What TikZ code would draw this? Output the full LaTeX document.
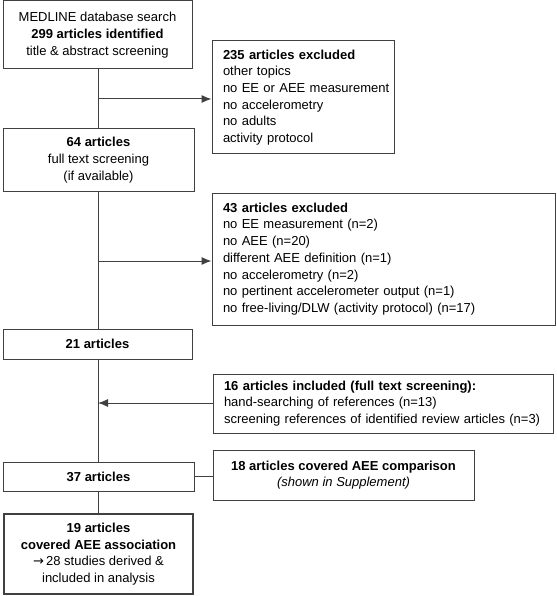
\documentclass[tikz,border=0pt]{standalone}
\usepackage{fontspec}
\setmainfont{Liberation Sans}
\newfontfamily\dejavu{DejaVu Sans}
\usetikzlibrary{arrows.meta}
\begin{document}
\begin{tikzpicture}[x=1pt,y=-1pt,
  every node/.style={font=\fontsize{13}{16.7}\selectfont},
  box/.style={draw=black!75, line width=1pt, inner sep=0pt, align=center},
  lbox/.style={draw=black!75, line width=1pt, inner xsep=11pt, inner ysep=0pt, align=left},
  conn/.style={draw=black!75, line width=1pt},
  arr/.style={conn, -{Latex[length=10pt,width=8pt]}}
]
\useasboundingbox (0,0) rectangle (556,596);
\node[box, minimum width=189pt, minimum height=68pt] (b1) at (97.5,35)
  {MEDLINE database search\\\textbf{299 articles identified}\\title \& abstract screening};
\node[lbox, text width=160pt, minimum height=113pt] (b2) at (303,97.5)
  {\begin{tabular}{@{}l@{}}\textbf{235 articles excluded}\\other topics\\no EE or AEE measurement\\no accelerometry\\no adults\\activity protocol\end{tabular}};
\node[box, minimum width=191pt, minimum height=62pt] (b3) at (98.5,160)
  {\textbf{64 articles}\\full text screening\\(if available)};
\node[lbox, text width=321pt, minimum height=132pt] (b4) at (383.5,259)
  {\begin{tabular}{@{}l@{}}\textbf{43 articles excluded}\\no EE measurement (n=2)\\no AEE (n=20)\\different AEE definition (n=1)\\no accelerometry (n=2)\\no pertinent accelerometer output (n=1)\\no free-living/DLW (activity protocol) (n=17)\end{tabular}};
\node[box, minimum width=189pt, minimum height=30pt] (b21) at (97.5,344)
  {\textbf{21 articles}};
\node[lbox, text width=318pt, minimum height=59pt] (b5) at (383,403.5)
  {\begin{tabular}{@{}l@{}}\textbf{16 articles included (full text screening):}\\hand-searching of references (n=13)\\screening references of identified review articles (n=3)\end{tabular}};
\node[box, minimum width=191pt, minimum height=29pt] (b37) at (98.5,476.5)
  {\textbf{37 articles}};
\node[box, minimum width=261pt, minimum height=50pt] (b18) at (343.5,475)
  {\textbf{18 articles covered AEE comparison}\\\textit{(shown in Supplement)}};
\node[box, line width=2.5pt, minimum width=189pt, minimum height=80pt] (b19) at (98.5,554)
  {\textbf{19 articles}\\\textbf{covered AEE association}\\{\dejavu →}\,28 studies derived \&\\included in analysis};

\coordinate (c1) at (98,99);
\coordinate (c2) at (98,261);
\coordinate (c3) at (98,403);
\draw[conn] (b1.south -| c1) -- (b3.north -| c1);
\draw[conn] (b3.south -| c1) -- (b21.north -| c1);
\draw[conn] (b21.south -| c1) -- (b37.north -| c1);
\draw[conn] (b37.south -| c1) -- (b19.north -| c1);
\draw[arr] (c1) -- (c1 -| b2.west);
\draw[arr] (c2) -- (c2 -| b4.west);
\draw[arr] (c3 -| b5.west) -- (c3);
\draw[conn] (b37.east) -- (b37.east -| b18.west);
\end{tikzpicture}
\end{document}
